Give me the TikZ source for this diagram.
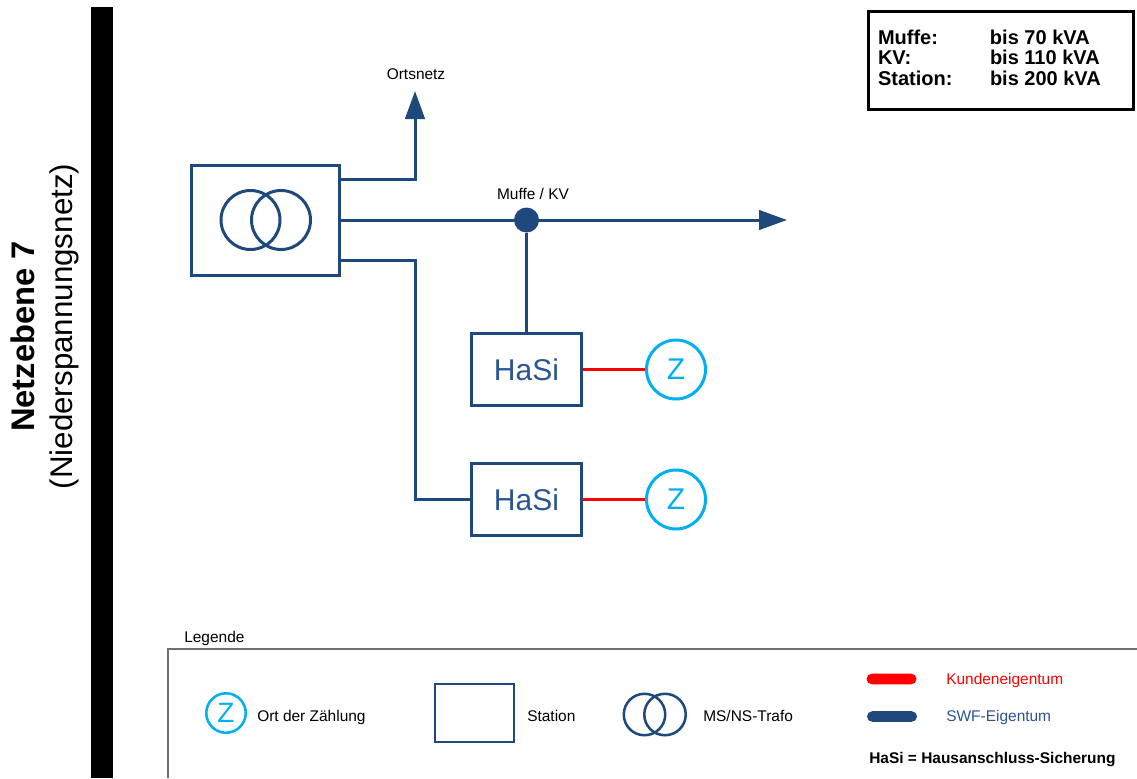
\documentclass[tikz,border=0pt]{standalone}
\usepackage{fontspec}
\setmainfont{Liberation Sans}
\usetikzlibrary{arrows.meta}
\definecolor{swf}{RGB}{31,73,125}
\definecolor{swftext}{RGB}{43,84,148}
\definecolor{zblue}{RGB}{0,176,240}
\definecolor{kunde}{RGB}{255,0,0}
\definecolor{legendgray}{RGB}{110,110,110}
\begin{document}
\begin{tikzpicture}
  [x=0.75pt,y=-0.75pt,every node/.style={inner sep=0pt},
   lbl/.style={font=\fontsize{11.6}{14}\selectfont},
   station/.style={draw=swf,line width=2.25pt,minimum width=111pt,minimum height=82.5pt},
   hasi/.style={draw=swf,line width=2.25pt,minimum width=82.5pt,minimum height=54pt,
     text=swftext,font=\fontsize{22.5}{27}\selectfont},
   trafo/.style={circle,draw=swf,line width=2.25pt,minimum size=44.25pt},
   zaehler/.style={circle,draw=zblue,line width=2.25pt,minimum size=44.25pt,
     text=zblue,font=\fontsize{22.5}{27}\selectfont},
   muffe/.style={circle,fill=swf,minimum size=18.75pt},
   netz/.style={draw=swf,line width=2.25pt},
   netzpfeil/.style={netz,-{Triangle[length=21pt,width=14.6pt]}},
   kundennetz/.style={draw=kunde,line width=2.6pt},
   pill/.style={minimum width=37.5pt,minimum height=7.9pt,rounded corners=3.9pt}]
  \useasboundingbox (0,0) rectangle (1137,778);

  % Netzebene
  \fill (91,7) rectangle (113,778);
  \node[rotate=90,font=\fontsize{24.5}{29}\selectfont\bfseries] (ebene) at (23,336.5) {Netzebene 7};
  \node[rotate=90,font=\fontsize{23.5}{28}\selectfont] (ebenename) at (64,326.5) {(Niederspannungsnetz)};

  % Leistungen
  \node[draw,line width=2.25pt,minimum width=198.75pt,minimum height=73.5pt,
    font=\fontsize{15}{15.4}\selectfont\bfseries] (kva) at (1001,60.5)
    {\begin{tabular}{@{}p{84pt}@{}p{100.5pt}@{}}
      Muffe: & bis 70 kVA\\
      KV: & bis 110 kVA\\
      Station: & bis 200 kVA
    \end{tabular}};

  % Netz
  \node[station] (station) at (265.5,220) {};
  \node[trafo] (tr1) at (250.5,220) {};
  \node[trafo] (tr2) at (281,220) {};
  \node[hasi] (hasi1) at (526.5,369.5) {HaSi};
  \node[hasi] (hasi2) at (526.5,499.5) {HaSi};
  \node[zaehler] (z1) at (676,369.5) {Z};
  \node[zaehler] (z2) at (676,499.5) {Z};
  \coordinate (orts) at (415,91);
  \coordinate (netzende) at (787,220);
  \coordinate (knick) at (415,499.5);
  \node[lbl,anchor=base] (ortsnetz) at (416,79) {Ortsnetz};
  \node[lbl,anchor=base] (muffelbl) at (533,199) {Muffe / KV};

  \draw[netzpfeil] ([yshift=30.4pt]station.east) -| (orts);
  \draw[netzpfeil] (station.east) -- (netzende);
  \draw[netz] ([yshift=-30.4pt]station.east) -| (knick) -- (hasi2);
  \node[muffe] (muffe) at (526.5,220) {};
  \draw[netz] (muffe) -- (hasi1);
  \foreach \from/\to in {hasi1/z1,hasi2/z2}
    \draw[kundennetz] (\from) -- (\to);

  % Legende
  \node[lbl,anchor=base west] (legende) at (184,642) {Legende};
  \draw[legendgray,line width=1.1pt] (168,778) |- (1137,649);
  \node[zaehler,line width=1.9pt,minimum size=29.6pt,font=\fontsize{21}{25}\selectfont] (lz) at (226,713) {Z};
  \node[lbl,anchor=base west] (lzlbl) at (257,721) {Ort der Zählung};
  \node[station,line width=1.5pt,minimum width=59.25pt,minimum height=43.5pt] (lstation) at (474.5,713) {};
  \node[lbl,anchor=base west] (lstationlbl) at (527,721) {Station};
  \node[trafo,line width=1.9pt,minimum size=31.1pt] (lt1) at (644.5,714.5) {};
  \node[trafo,line width=1.9pt,minimum size=31.1pt] (lt2) at (665,714.5) {};
  \node[lbl,anchor=base west] (ltlbl) at (703,721) {MS/NS-Trafo};
  \node[pill,fill=kunde] (lkunde) at (891.5,679) {};
  \node[lbl,anchor=base west,text=kunde] (lkundelbl) at (946,684) {Kundeneigentum};
  \node[pill,fill=swf] (lswf) at (892,716.5) {};
  \node[lbl,anchor=base west,text=swftext] (lswflbl) at (946,721) {SWF-Eigentum};
  \node[lbl,anchor=base west,font=\fontsize{11.6}{14}\selectfont\bfseries] (lhasi) at (869,763) {HaSi = Hausanschluss-Sicherung};

\end{tikzpicture}
\end{document}
